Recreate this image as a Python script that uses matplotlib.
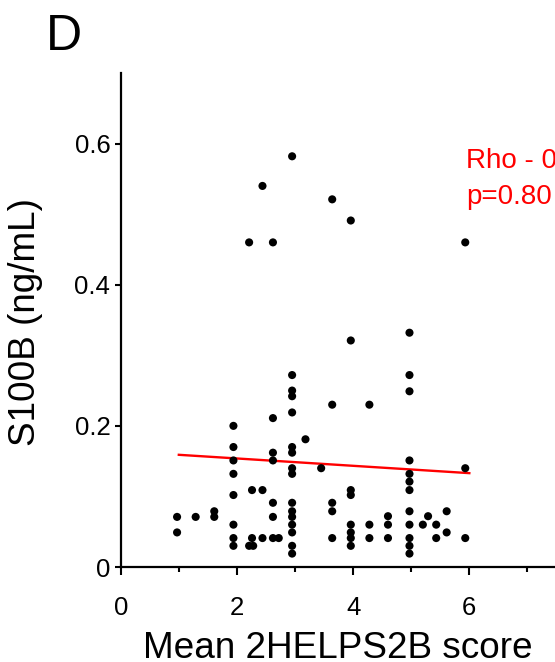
import matplotlib
matplotlib.use("Agg")
import matplotlib.pyplot as plt
from matplotlib.ticker import MultipleLocator

plt.rcParams['font.family'] = ['Liberation Sans', 'DejaVu Sans']

# Data (mean 2HELPS2B score vs S100B, ng/mL)
score = [
    0.97, 0.97, 1.29, 1.61, 1.61,
    1.94, 1.94, 1.94, 1.94, 1.94, 1.94, 1.94, 1.94,
    2.21, 2.28, 2.26, 2.26, 2.44, 2.44,
    2.62, 2.62, 2.62, 2.62, 2.62, 2.62, 2.72,
    2.95, 2.95, 2.95, 2.95, 2.95, 2.95, 2.95, 2.95,
    2.95, 2.95, 2.95, 2.95, 2.95, 2.95, 2.95,
    3.18, 3.45,
    3.64, 3.64, 3.64, 3.64,
    3.96, 3.96, 3.96, 3.96, 3.96, 3.96, 3.96,
    4.28, 4.28, 4.28, 4.60, 4.60, 4.60,
    4.97, 4.97, 4.97, 4.97, 4.97, 4.97,
    4.97, 4.97, 4.97, 4.97, 4.97, 4.97,
    5.20, 5.29, 5.43, 5.43, 5.61, 5.61, 5.93, 5.93,
    2.95, 2.44, 2.21, 2.62, 3.64, 3.96, 5.93,
]
s100b = [
    0.071, 0.049, 0.071, 0.079, 0.071,
    0.200, 0.170, 0.151, 0.132, 0.102, 0.060, 0.041, 0.030,
    0.030, 0.030, 0.109, 0.041, 0.109, 0.041,
    0.211, 0.162, 0.151, 0.091, 0.071, 0.041, 0.041,
    0.272, 0.250, 0.242, 0.219, 0.170, 0.162, 0.140, 0.132,
    0.091, 0.079, 0.071, 0.060, 0.049, 0.030, 0.019,
    0.181, 0.140,
    0.230, 0.091, 0.079, 0.041,
    0.321, 0.109, 0.102, 0.060, 0.049, 0.041, 0.030,
    0.230, 0.060, 0.041, 0.072, 0.060, 0.041,
    0.332, 0.272, 0.249, 0.151, 0.132, 0.121,
    0.109, 0.079, 0.060, 0.041, 0.030, 0.019,
    0.060, 0.072, 0.060, 0.041, 0.079, 0.049, 0.140, 0.041,
    0.582, 0.540, 0.460, 0.460, 0.521, 0.491, 0.460,
]

# Regression line end points
fit_x = [1.0, 6.0]
fit_y = [0.159, 0.133]

x_ticks = [0, 2, 4, 6]
y_ticks = [0, 0.2, 0.4, 0.6]
y_tick_labels = ['0', '0.2', '0.4', '0.6']

fig = plt.figure(figsize=(5.55, 6.62), dpi=100)
ax = fig.add_axes([0.2175, 0.1435, 0.8375, 0.7462])

ax.scatter(score, s100b, s=34, color='black', edgecolors='none', zorder=3)
ax.plot(fit_x, fit_y, color='red', linewidth=1.7, zorder=2)

ax.set_xlim(0, 8)
ax.set_ylim(0, 0.7)

# Axes styling
for side in ['top', 'right']:
    ax.spines[side].set_visible(False)
for side in ['left', 'bottom']:
    ax.spines[side].set_linewidth(1.6)

ax.set_xticks(x_ticks)
ax.xaxis.set_minor_locator(MultipleLocator(1))
ax.set_yticks(y_ticks)
ax.set_yticklabels(y_tick_labels)
ax.tick_params(axis='x', which='major', length=6, width=1.5, pad=15, labelsize=18.5)
ax.tick_params(axis='x', which='minor', length=3.5, width=1.5)
ax.tick_params(axis='y', which='major', length=4.5, width=1.5, pad=3, labelsize=18.5)

ax.set_xlabel('Mean 2HELPS2B score', fontsize=26.6)
ax.xaxis.set_label_coords(0.4675, -0.184)
ax.xaxis.label.set_va('baseline')
ax.set_ylabel('S100B (ng/mL)', fontsize=26.6)
ax.yaxis.set_label_coords(-0.204, 0.495)
ax.yaxis.label.set_va('center')

# Correlation annotation
ax.text(5.94, 0.565, 'Rho - 0', color='red', fontsize=20, va='baseline', ha='left')
ax.text(5.94, 0.515, 'p=0.80', color='red', fontsize=20, va='baseline', ha='left')

# Panel letter
fig.text(46 / 555, 1 - 50 / 662, 'D', fontsize=36, va='baseline', ha='left')

fig.savefig('out.png', dpi=100)
plt.close(fig)
